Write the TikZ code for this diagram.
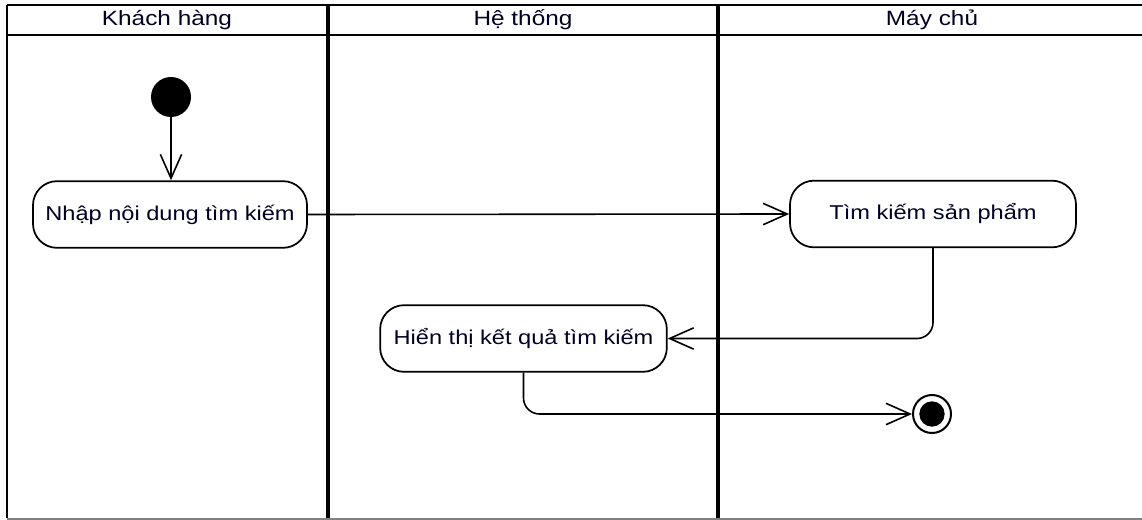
\documentclass[tikz,border=0pt]{standalone}
\usepackage{fontspec}
\setmainfont[FakeStretch=1.18]{Liberation Sans}
\usepackage{tikz}
\usetikzlibrary{positioning,shapes.geometric,arrows.meta}

\begin{document}
\begin{tikzpicture}[x=0.75pt,y=-0.75pt,
    lane/.style={line width=2.2pt,black},
    divider/.style={line width=2.6pt,black},
    action/.style={draw,line width=1.3pt,rounded corners=18pt,minimum height=50pt,
      font=\fontsize{15pt}{18pt}\selectfont,text=black!85!blue},
    flow/.style={line width=1.2pt,-{Straight Barb[length=18pt,width=16pt,line width=1.2pt]}},
    title/.style={font=\fontsize{15.5pt}{18pt}\selectfont,text=black!85!blue}]

    \useasboundingbox (0,0) rectangle (1142,520);
    \fill[white] (0,0) rectangle (1142,520);

    % swimlanes
    \draw[lane] (7,5) -- (1142,5);
    \draw[lane] (7,35) -- (1142,35);
    \draw[lane] (7,5) -- (7,518);
    \draw[divider] (328,5) -- (328,518);
    \draw[divider] (718,5) -- (718,518);
    \draw[gray,line width=1.5pt] (7,518.5) -- (1142,518.5);

    \node[title] (khach) at (167,20) {Khách hàng};
    \node[title] (hethong) at (523,20) {Hệ thống};
    \node[title] (maychu) at (932,20) {Máy chủ};

    % states
    \node[circle,fill=black,minimum size=30pt,inner sep=0pt] (start) at (171,97) {};
    \node[action,minimum width=205.5pt] (nhap) at (170,214.5) {Nhập nội dung tìm kiếm};
    \node[action,minimum width=214.5pt] (timkiem) at (933,214) {Tìm kiếm sản phẩm};
    \node[action,minimum width=215pt] (hienthi) at (523.5,338.5) {Hiển thị kết quả tìm kiếm};
    \node[circle,draw,line width=1.5pt,minimum size=28.5pt,inner sep=0pt] (end) at (932,414) {};
    \node[circle,fill=black,minimum size=19pt,inner sep=0pt] (endin) at (end) {};

    % transitions
    \draw[flow] (start) -- (start |- nhap.north);
    \draw[flow] (nhap.east) -- (timkiem.west);
    \draw[flow,rounded corners=12pt] (timkiem.south) |- (hienthi.east);
    \draw[flow,rounded corners=12pt] (hienthi.south) |- (end.west);
\end{tikzpicture}
\end{document}
